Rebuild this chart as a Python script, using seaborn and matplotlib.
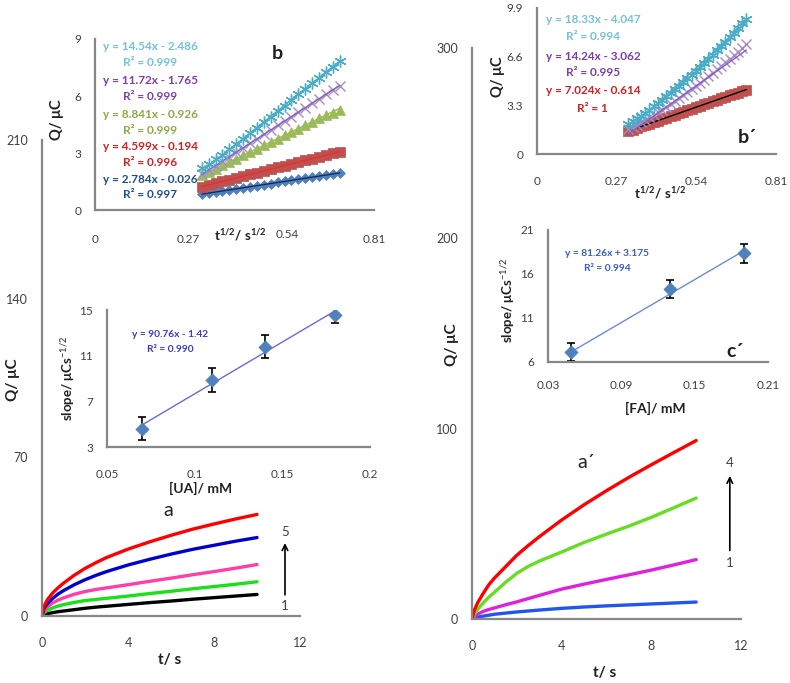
import matplotlib
matplotlib.use('Agg')
import matplotlib.pyplot as plt
import seaborn as sns
import pandas as pd

sns.set_style('white')
plt.rcParams['font.family'] = ['Lato', 'DejaVu Sans']
plt.rcParams['mathtext.fontset'] = 'custom'
plt.rcParams['mathtext.rm'] = 'Lato'
plt.rcParams['mathtext.bf'] = 'Lato:bold'
plt.rcParams['mathtext.it'] = 'Lato:italic'

GRAY = '#878787'
TXT = '#404040'

# ---- main chronocoulograms (Q vs t) ----
t_main = [0, 0.1, 0.25, 0.5, 0.75, 1, 1.5, 2, 2.5, 3, 4, 5, 6, 7, 8, 9, 10]
ua_curves = {
    '1': [0, 0.6, 1.0, 1.5, 1.9, 2.2, 2.8, 3.4, 3.9, 4.3, 5.1, 5.9, 6.6, 7.4, 8.1, 8.8, 9.5],
    '2': [0, 1.5, 2.5, 3.6, 4.4, 5.0, 6.0, 6.8, 7.3, 7.8, 8.8, 9.9, 10.9, 12.0, 13.0, 14.0, 15.1],
    '3': [0, 2.5, 4.0, 5.8, 7.0, 8.0, 9.6, 10.8, 11.7, 12.4, 13.8, 15.3, 16.7, 18.2, 19.6, 21.1, 22.7],
    '4': [0, 3.5, 5.5, 7.8, 9.7, 11.2, 13.8, 16.0, 17.9, 19.6, 22.5, 25.0, 27.3, 29.4, 31.2, 33.0, 34.6],
    '5': [0, 4.5, 7.2, 10.2, 12.5, 14.5, 18.0, 21.0, 23.5, 25.8, 29.5, 32.7, 35.6, 38.3, 40.6, 42.8, 44.8],
}
ua_colors = {'1': '#000000', '2': '#19E019', '3': '#FF3FA6', '4': '#0000D0', '5': '#FF0000'}

fa_curves = {
    '1': [0, 0.5, 1.0, 1.5, 2.0, 2.5, 3.1, 3.7, 4.2, 4.7, 5.6, 6.3, 6.9, 7.4, 7.9, 8.4, 8.9],
    '2': [0, 1.2, 2.5, 4.0, 5.0, 5.8, 7.5, 9.0, 10.7, 12.4, 15.7, 18.3, 20.8, 23.2, 25.7, 28.4, 31.2],
    '3': [0, 2.5, 5.0, 8.5, 11.5, 14.0, 19.3, 24.0, 27.6, 30.4, 35.2, 40.2, 44.6, 48.8, 53.4, 58.4, 63.5],
    '4': [0, 4.5, 8.5, 13.5, 18.0, 21.5, 27.5, 33.5, 38.5, 43.2, 52.0, 60.0, 67.4, 74.4, 81.0, 87.4, 93.7],
}
fa_colors = {'1': '#2255EE', '2': '#E020E0', '3': '#66DD22', '4': '#FF0000'}

# ---- inset b: Q vs t^1/2 (UA) ----
xb = [0.31, 0.33, 0.35, 0.37, 0.39, 0.41, 0.43, 0.45, 0.47, 0.49, 0.51,
      0.53, 0.55, 0.57, 0.59, 0.61, 0.63, 0.65, 0.67, 0.69, 0.71]
b_blue = [0.84, 0.89, 0.95, 1.00, 1.06, 1.12, 1.17, 1.23, 1.28, 1.34, 1.39,
          1.45, 1.51, 1.56, 1.62, 1.67, 1.73, 1.78, 1.84, 1.90, 1.95]
b_red = [1.23, 1.32, 1.42, 1.51, 1.60, 1.69, 1.78, 1.88, 1.97, 2.06, 2.15,
         2.24, 2.34, 2.43, 2.52, 2.61, 2.70, 2.80, 2.89, 2.98, 3.07]
b_green = [1.82, 1.99, 2.17, 2.35, 2.52, 2.70, 2.88, 3.05, 3.23, 3.41, 3.58,
           3.76, 3.94, 4.11, 4.29, 4.47, 4.64, 4.82, 5.00, 5.12, 5.25]
b_purple = [1.87, 2.10, 2.34, 2.57, 2.81, 3.04, 3.28, 3.51, 3.74, 3.98, 4.21,
            4.45, 4.68, 4.92, 5.15, 5.38, 5.62, 5.85, 6.09, 6.32, 6.52]
b_cyan = [2.20, 2.42, 2.66, 2.92, 3.19, 3.47, 3.76, 4.05, 4.34, 4.63, 4.92,
          5.21, 5.50, 5.79, 6.08, 6.37, 6.66, 6.95, 7.25, 7.55, 7.84]
b_slope = [2.784, 4.599, 8.841, 11.72, 14.54]
b_icpt = [-0.026, -0.194, -0.926, -1.765, -2.486]
b_r2 = ['0.997', '0.996', '0.999', '0.999', '0.999']

# ---- inset b': Q vs t^1/2 (FA) ----
xb2 = [0.310, 0.324, 0.339, 0.353, 0.367, 0.381, 0.396, 0.410, 0.424, 0.439,
       0.453, 0.467, 0.481, 0.496, 0.510, 0.524, 0.539, 0.553, 0.567, 0.581,
       0.596, 0.610, 0.624, 0.639, 0.653, 0.667, 0.681, 0.696, 0.710]
b2_red = [1.56, 1.66, 1.77, 1.87, 1.96, 2.06, 2.17, 2.27, 2.36, 2.47, 2.57, 2.67,
          2.77, 2.87, 2.97, 3.07, 3.17, 3.27, 3.37, 3.47, 3.57, 3.67, 3.77, 3.87,
          3.97, 4.07, 4.17, 4.28, 4.37]
b2_purple = [1.70, 1.84, 2.00, 2.15, 2.31, 2.48, 2.66, 2.83, 3.01, 3.20, 3.39, 3.58,
             3.77, 3.98, 4.18, 4.39, 4.61, 4.82, 5.04, 5.26, 5.50, 5.73, 5.96, 6.21,
             6.45, 6.69, 6.94, 7.21, 7.46]
b2_cyan = [2.05, 2.22, 2.42, 2.60, 2.80, 3.01, 3.24, 3.46, 3.68, 3.92, 4.15, 4.38,
           4.62, 4.87, 5.12, 5.37, 5.64, 5.90, 6.17, 6.45, 6.74, 7.02, 7.31, 7.62,
           7.92, 8.22, 8.53, 8.86, 9.18]
b2_slope = [7.024, 14.24, 18.33]
b2_icpt = [-0.614, -3.062, -4.047]
b2_r2 = ['1', '0.995', '0.994']

# ---- calibration insets ----
ua_conc = [0.07, 0.11, 0.14, 0.18]
ua_slope = [4.6, 8.9, 11.8, 14.6]
ua_err = [1.0, 1.05, 1.0, 0.75]
fa_conc = [0.049, 0.13, 0.19]
fa_slope = [7.15, 14.3, 18.35]
fa_err = [1.0, 1.0, 1.05]

fig = plt.figure(figsize=(7.9, 6.83), dpi=100)


def style(ax, fs=8.5, xpad=12, ypad=7):
    sns.despine(ax=ax)
    for s in ['left', 'bottom']:
        ax.spines[s].set_color(GRAY)
        ax.spines[s].set_linewidth(1.6)
    ax.tick_params(axis='both', direction='out', length=3, width=1.3,
                   color=GRAY, labelcolor=TXT, labelsize=fs)
    ax.tick_params(axis='x', pad=xpad)
    ax.tick_params(axis='y', pad=ypad)
    ax.set_facecolor('white')


def main_panel(rect, curves, colors, ymax, yticks):
    ax = fig.add_axes(rect)
    rows = []
    for k, q in curves.items():
        for t, v in zip(t_main, q):
            rows.append({'t': t, 'Q': v, 'c': k})
    df = pd.DataFrame(rows)
    sns.lineplot(data=df, x='t', y='Q', hue='c', palette=colors, lw=2.4,
                 legend=False, ax=ax, sort=False)
    ax.set_xlim(0, 12)
    ax.set_ylim(0, ymax)
    ax.set_xticks([0, 4, 8, 12])
    ax.set_yticks(yticks)
    style(ax, fs=9)
    ax.set_xlabel('')
    ax.set_ylabel('')
    return ax


# main left (UA)
axL = main_panel([0.0532, 0.0981, 0.3266, 0.6969], ua_curves, ua_colors, 210, [0, 70, 140, 210])
axL.text(-0.112, 0.496, 'Q/ μC', transform=axL.transAxes, rotation=90,
         ha='center', va='center', fontsize=11, fontweight='bold', color='#202020')
axL.text(0.496, -0.092, 't/ s', transform=axL.transAxes, ha='center', va='center',
         fontsize=11, fontweight='bold', color='#202020')
axL.text(5.85, 46.5, 'a', ha='center', va='center', fontsize=14, color='#202020')
axL.annotate('', xy=(11.3, 33.4), xytext=(11.3, 8.1),
             arrowprops=dict(arrowstyle='->', color='black', lw=1.2))
axL.text(11.3, 4.2, '1', ha='center', va='center', fontsize=9.5, color=TXT)
axL.text(11.3, 36.9, '5', ha='center', va='center', fontsize=9.5, color=TXT)

# main right (FA)
axR = main_panel([0.5975, 0.0937, 0.3405, 0.8365], fa_curves, fa_colors, 300, [0, 100, 200, 300])
axR.text(-0.074, 0.48, 'Q/ μC', transform=axR.transAxes, rotation=90,
         ha='center', va='center', fontsize=11, fontweight='bold', color='#202020')
axR.text(0.494, -0.095, 't/ s', transform=axR.transAxes, ha='center', va='center',
         fontsize=11, fontweight='bold', color='#202020')
axR.text(5.1, 82.4, 'a´', ha='center', va='center', fontsize=14, color='#202020')
axR.annotate('', xy=(11.5, 76.6), xytext=(11.5, 34.5),
             arrowprops=dict(arrowstyle='->', color='black', lw=1.2))
axR.text(11.5, 29.3, '1', ha='center', va='center', fontsize=9.5, color=TXT)
axR.text(11.5, 81.7, '4', ha='center', va='center', fontsize=9.5, color=TXT)

# inset b
axb = fig.add_axes([0.1203, 0.6925, 0.3532, 0.2504])
style(axb, xpad=14)
b_series = [
    (b_blue, 'D', '#4F81BD', 5.5, '#1A2A55'),
    (b_red, 's', '#C0504D', 6.5, '#E03030'),
    (b_green, '^', '#9BBB59', 7, '#9BBB59'),
    (b_purple, 'x', '#A58CCB', 7.5, '#8A5FC0'),
    (b_cyan, (6, 2, 0), '#4BACC6', 8.5, '#4BACC6'),
]
for (ys, mk, col, ms, lcol), m, c in zip(b_series, b_slope, b_icpt):
    axb.plot(xb, ys, linestyle='none', marker=mk, color=col, markersize=ms,
             markeredgewidth=1.0 if mk in ('x', (6, 2, 0)) else 0.5)
    axb.plot([xb[0], xb[-1]], [m * xb[0] + c, m * xb[-1] + c], color=lcol, lw=1.0)
axb.set_xlim(0, 0.81)
axb.set_ylim(0, 9)
axb.set_xticks([0, 0.27, 0.54, 0.81])
axb.set_xticklabels(['0', '0.27', '', '0.81'])
axb.set_yticks([0, 3, 6, 9])
axb.text(0.69, -0.146, '0.54', transform=axb.transAxes, ha='center', va='center',
         fontsize=8.5, color=TXT)
axb.text(0.52, -0.146, r'$\mathbf{t^{1/2}/\ s^{1/2}}$', transform=axb.transAxes,
         ha='center', va='center', fontsize=9.5, color='#202020')
axb.text(-0.136, 0.526, 'Q/ μC', transform=axb.transAxes, rotation=90,
         ha='center', va='center', fontsize=10.5, fontweight='bold', color='#202020')
axb.text(0.652, 0.918, 'b', transform=axb.transAxes, ha='center', va='center',
         fontsize=14, fontweight='bold', color='#202020')
eq_cols_b = ['#1F4E8C', '#D42020', '#8AAA45', '#7B3FA8', '#73C2D6']
eq_y_b = [(0.180, 0.088), (0.370, 0.277), (0.560, 0.464), (0.760, 0.663), (0.955, 0.861)]
for m, c, r2, col, (y1, y2) in zip(b_slope, b_icpt, b_r2, eq_cols_b, eq_y_b):
    axb.text(0.197, y1, f'y = {m}x - {abs(c)}', transform=axb.transAxes, ha='center',
             va='center', fontsize=8.5, fontweight='bold', color=col)
    axb.text(0.197, y2, f'R² = {r2}', transform=axb.transAxes, ha='center',
             va='center', fontsize=8.5, fontweight='bold', color=col)

# inset UA calibration
axu = fig.add_axes([0.1354, 0.3455, 0.3329, 0.2006])
style(axu, xpad=13)
axu.errorbar(ua_conc, ua_slope, yerr=ua_err, fmt='none', ecolor='black',
             elinewidth=1.2, capsize=3, capthick=1.2)
sns.scatterplot(x=ua_conc, y=ua_slope, marker='D', color='#4F81BD', s=45,
                edgecolor='#4F81BD', ax=axu, zorder=3)
axu.plot([ua_conc[0], ua_conc[-1]], [90.76 * ua_conc[0] - 1.42, 90.76 * ua_conc[-1] - 1.42],
         color='#6A6ADD', lw=1.0)
axu.set_xlim(0.05, 0.2)
axu.set_ylim(3, 15)
axu.set_xticks([0.05, 0.1, 0.15, 0.2])
axu.set_xticklabels(['0.05', '0.1', '0.15', '0.2'])
axu.set_yticks([3, 7, 11, 15])
axu.text(0.24, 0.818, 'y = 90.76x - 1.42', transform=axu.transAxes, ha='center',
         va='center', fontsize=7.3, fontweight='bold', color='#3A3AC8')
axu.text(0.24, 0.715, 'R² = 0.990', transform=axu.transAxes, ha='center',
         va='center', fontsize=7.3, fontweight='bold', color='#3A3AC8')
axu.text(-0.148, 0.504, 'slope/ μCs$^{-1/2}$', transform=axu.transAxes, rotation=90,
         ha='center', va='center', fontsize=9.5, fontweight='bold', color='#202020')
axu.text(0.354, -0.30, '[UA]/ mM', transform=axu.transAxes, ha='center', va='center',
         fontsize=10, fontweight='bold', color='#202020')

# inset b'
axb2 = fig.add_axes([0.6797, 0.7745, 0.3025, 0.2138])
style(axb2, xpad=13)
b2_series = [
    (b2_red, 's', '#C0504D', 7.5, '#000000'),
    (b2_purple, 'x', '#A58CCB', 7.5, '#8A5FC0'),
    (b2_cyan, (6, 2, 0), '#4BACC6', 8.5, '#4BACC6'),
]
for (ys, mk, col, ms, lcol), m, c in zip(b2_series, b2_slope, b2_icpt):
    axb2.plot(xb2, ys, linestyle='none', marker=mk, color=col, markersize=ms,
              markeredgewidth=1.0 if mk != 's' else 0.5)
    axb2.plot([xb2[0], xb2[-1]], [m * xb2[0] + c, m * xb2[-1] + c], color=lcol, lw=1.0)
axb2.set_xlim(0, 0.81)
axb2.set_ylim(0, 9.9)
axb2.set_xticks([0, 0.27, 0.54, 0.81])
axb2.set_xticklabels(['0', '0.27', '0.54', '0.81'])
axb2.set_yticks([0, 3.3, 6.6, 9.9])
axb2.set_yticklabels(['0', '3.3', '6.6', '9.9'])
axb2.text(0.515, -0.267, r'$\mathbf{t^{1/2}/\ s^{1/2}}$', transform=axb2.transAxes,
          ha='center', va='center', fontsize=9.5, color='#202020')
axb2.text(-0.163, 0.527, 'Q/ μC', transform=axb2.transAxes, rotation=90,
          ha='center', va='center', fontsize=10.5, fontweight='bold', color='#202020')
axb2.text(0.879, 0.116, 'b´', transform=axb2.transAxes, ha='center', va='center',
          fontsize=14, fontweight='bold', color='#202020')
eq_cols_b2 = ['#D42020', '#7B3FA8', '#73C2D6']
eq_y_b2 = [(0.434, 0.313), (0.667, 0.557), (0.918, 0.804)]
for m, c, r2, col, (y1, y2) in zip(b2_slope, b2_icpt, b2_r2, eq_cols_b2, eq_y_b2):
    axb2.text(0.234, y1, f'y = {m}x - {abs(c)}', transform=axb2.transAxes, ha='center',
              va='center', fontsize=8.5, fontweight='bold', color=col)
    axb2.text(0.234, y2, f'R² = {r2}', transform=axb2.transAxes, ha='center',
              va='center', fontsize=8.5, fontweight='bold', color=col)

# inset c' (FA calibration)
axc = fig.add_axes([0.6937, 0.47, 0.2785, 0.1933])
style(axc, xpad=10)
axc.errorbar(fa_conc, fa_slope, yerr=fa_err, fmt='none', ecolor='black',
             elinewidth=1.2, capsize=3, capthick=1.2)
sns.scatterplot(x=fa_conc, y=fa_slope, marker='D', color='#4F81BD', s=45,
                edgecolor='#4F81BD', ax=axc, zorder=3)
axc.plot([fa_conc[0], fa_conc[-1]], [81.26 * fa_conc[0] + 3.175, 81.26 * fa_conc[-1] + 3.175],
         color='#6A8AE0', lw=1.0)
axc.set_xlim(0.03, 0.21)
axc.set_ylim(6, 21)
axc.set_xticks([0.03, 0.09, 0.15, 0.21])
axc.set_xticklabels(['0.03', '0.09', '0.15', '0.21'])
axc.set_yticks([6, 11, 16, 21])
axc.text(0.268, 0.818, 'y = 81.26x + 3.175', transform=axc.transAxes, ha='center',
         va='center', fontsize=7.3, fontweight='bold', color='#3A5AC8')
axc.text(0.268, 0.705, 'R² = 0.994', transform=axc.transAxes, ha='center',
         va='center', fontsize=7.3, fontweight='bold', color='#3A5AC8')
axc.text(-0.18, 0.47, 'slope/ μCs$^{-1/2}$', transform=axc.transAxes, rotation=90,
         ha='center', va='center', fontsize=9.5, fontweight='bold', color='#202020')
axc.text(0.486, -0.35, '[FA]/ mM', transform=axc.transAxes, ha='center', va='center',
         fontsize=10, fontweight='bold', color='#202020')
axc.text(0.85, 0.076, 'c´', transform=axc.transAxes, ha='center', va='center',
         fontsize=14, fontweight='bold', color='#202020')

fig.savefig('out.png', dpi=100)
